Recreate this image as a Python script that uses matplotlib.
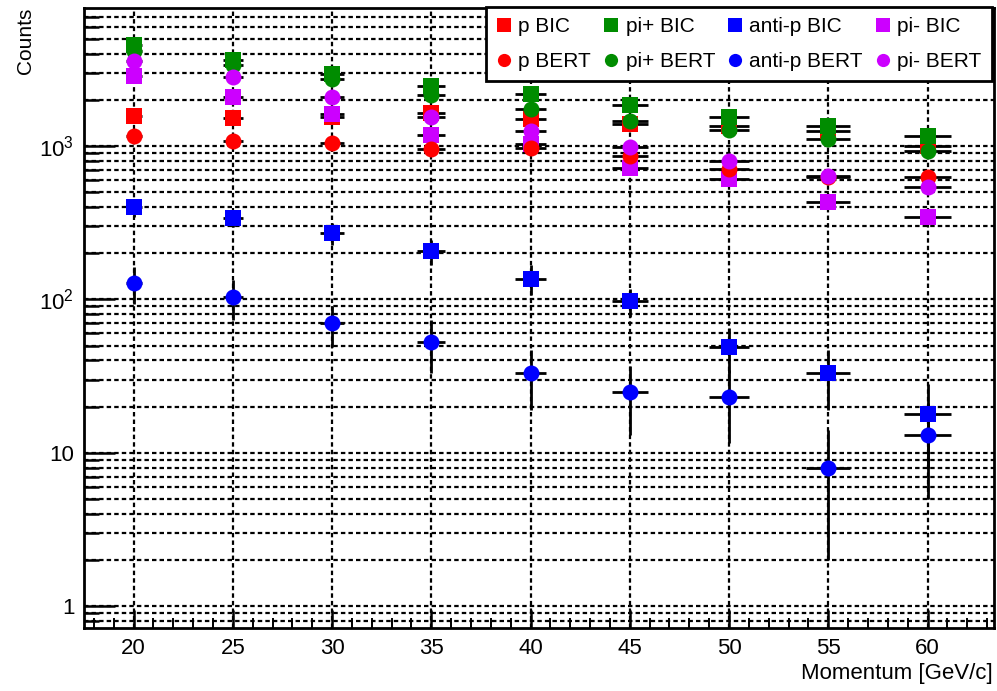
import matplotlib
matplotlib.use('Agg')
import matplotlib.pyplot as plt
from matplotlib.lines import Line2D
from matplotlib.ticker import LogLocator, NullFormatter, FixedLocator, MultipleLocator

plt.rcParams['font.family'] = ['Liberation Sans', 'DejaVu Sans']
plt.rcParams['mathtext.fontset'] = 'custom'
plt.rcParams['mathtext.rm'] = 'Liberation Sans'

# momentum points
momentum = [20, 25, 30, 35, 40, 45, 50, 55, 60]
mom_err = [0.4, 0.5, 0.6, 0.7, 0.8, 0.9, 1.0, 1.1, 1.2]

# BIC
p_bic = [1570, 1530, 1550, 1645, 1500, 1400, 1350, 1250, 1000]
p_bic_err = [40, 40, 40, 45, 45, 45, 50, 50, 45]
pip_bic = [4570, 3650, 2950, 2450, 2190, 1855, 1550, 1358, 1168]
pip_bic_err = [80, 70, 60, 60, 55, 50, 50, 45, 45]
antip_bic = [400, 338, 270, 206, 137, 97, 49, 33, 18]
antip_bic_err = [55, 40, 45, 38, 30, 20, 16, 14, 10]
pim_bic = [2870, 2090, 1620, 1180, 1030, 718, 610, 430, 344]
pim_bic_err = [60, 50, 50, 50, 40, 40, 40, 35, 30]

# BERT
p_bert = [1168, 1085, 1048, 955, 970, 860, 707, 630, 627]
p_bert_err = [35, 35, 35, 35, 35, 35, 35, 35, 35]
pip_bert = [4170, 3400, 2750, 2170, 1745, 1465, 1273, 1110, 932]
pip_bert_err = [70, 65, 60, 55, 50, 45, 45, 40, 40]
antip_bert = [129, 104, 70, 53, 33, 25, 23, 8, 13]
antip_bert_err = [35, 30, 21, 20, 14, 12, 11.5, 6, 8]
pim_bert = [3610, 2820, 2090, 1560, 1260, 985, 798, 640, 542]
pim_bert_err = [60, 55, 50, 45, 40, 40, 35, 35, 30]

ytick_vals = [1, 10, 100, 1000]
ytick_labels = ['1', '10', r'$10^{2}$', r'$10^{3}$']

RED = (1.0, 0.0, 0.0)
GREEN = (0.0, 0.55, 0.0)
BLUE = (0.0, 0.0, 1.0)
VIOLET = (0.8, 0.0, 1.0)

series = [
    ('p BIC', p_bic, p_bic_err, RED, 's'),
    ('pi+ BIC', pip_bic, pip_bic_err, GREEN, 's'),
    ('anti-p BIC', antip_bic, antip_bic_err, BLUE, 's'),
    ('pi- BIC', pim_bic, pim_bic_err, VIOLET, 's'),
    ('p BERT', p_bert, p_bert_err, RED, 'o'),
    ('pi+ BERT', pip_bert, pip_bert_err, GREEN, 'o'),
    ('anti-p BERT', antip_bert, antip_bert_err, BLUE, 'o'),
    ('pi- BERT', pim_bert, pim_bert_err, VIOLET, 'o'),
]

W, H = 997, 691
fig = plt.figure(figsize=(W / 100, H / 100), dpi=100)
fig.patch.set_facecolor('white')
ax = fig.add_axes([84 / W, 1 - 628 / H, (994 - 84) / W, (628 - 8) / H])

ax.set_yscale('log')
ax.set_xlim(17.5, 63.35)
ax.set_ylim(0.72, 7960)

# grille pointillee type ROOT
ax.set_axisbelow(True)
ax.xaxis.set_major_locator(MultipleLocator(5))
ax.xaxis.set_minor_locator(MultipleLocator(1))
ax.yaxis.set_major_locator(FixedLocator(ytick_vals))
ax.yaxis.set_minor_locator(LogLocator(base=10, subs=range(2, 10), numticks=20))
ax.yaxis.set_minor_formatter(NullFormatter())
ax.set_yticklabels(ytick_labels)

gridkw = dict(color='black', linestyle=(0, (2.0, 1.4)), linewidth=1.6)
ax.grid(True, which='major', axis='x', **gridkw)
ax.grid(True, which='both', axis='y', **gridkw)

ax.tick_params(axis='y', which='major', direction='in', length=22, width=1.8,
               labelsize=16, pad=7, right=False)
ax.tick_params(axis='y', which='minor', direction='in', length=11, width=1.8, right=False)
ax.tick_params(axis='x', which='major', direction='in', length=13, width=1.8,
               labelsize=16, pad=7, top=False)
ax.tick_params(axis='x', which='minor', direction='in', length=7, width=1.4, top=False)

for sp in ax.spines.values():
    sp.set_linewidth(2.0)

for name, vals, errs, col, mk in series:
    ax.errorbar(momentum, vals, yerr=errs, xerr=mom_err, fmt=mk, color=col,
                markersize=11.5, markeredgewidth=0, ecolor='black', elinewidth=2.0,
                capsize=3, capthick=2.0, zorder=3)

# legende : 2 lignes x 4 colonnes
handles = []
labels = []
order = [0, 4, 1, 5, 2, 6, 3, 7]
for i in order:
    name, vals, errs, col, mk = series[i]
    handles.append(Line2D([], [], linestyle='none', marker=mk, color=col,
                          markersize=9.5, markeredgewidth=0))
    labels.append(name)
leg = ax.legend(handles, labels, ncol=4, loc='upper right',
                bbox_to_anchor=(992 / W, 1 - 7 / H), bbox_transform=fig.transFigure,
                fontsize=15, frameon=True, fancybox=False, framealpha=1,
                edgecolor='black', borderpad=0.5, handlelength=0.7,
                handletextpad=0.35, columnspacing=0.6, labelspacing=0.75,
                borderaxespad=0)
leg.get_frame().set_linewidth(2.0)
leg.set_zorder(10)

fig.text(25 / W, 1 - 8 / H, 'Counts', rotation=90, ha='center', va='top', fontsize=15)
fig.text(993 / W, 1 - 684 / H, 'Momentum [GeV/c]', ha='right', va='bottom', fontsize=16)

fig.savefig('out.png', dpi=100)
